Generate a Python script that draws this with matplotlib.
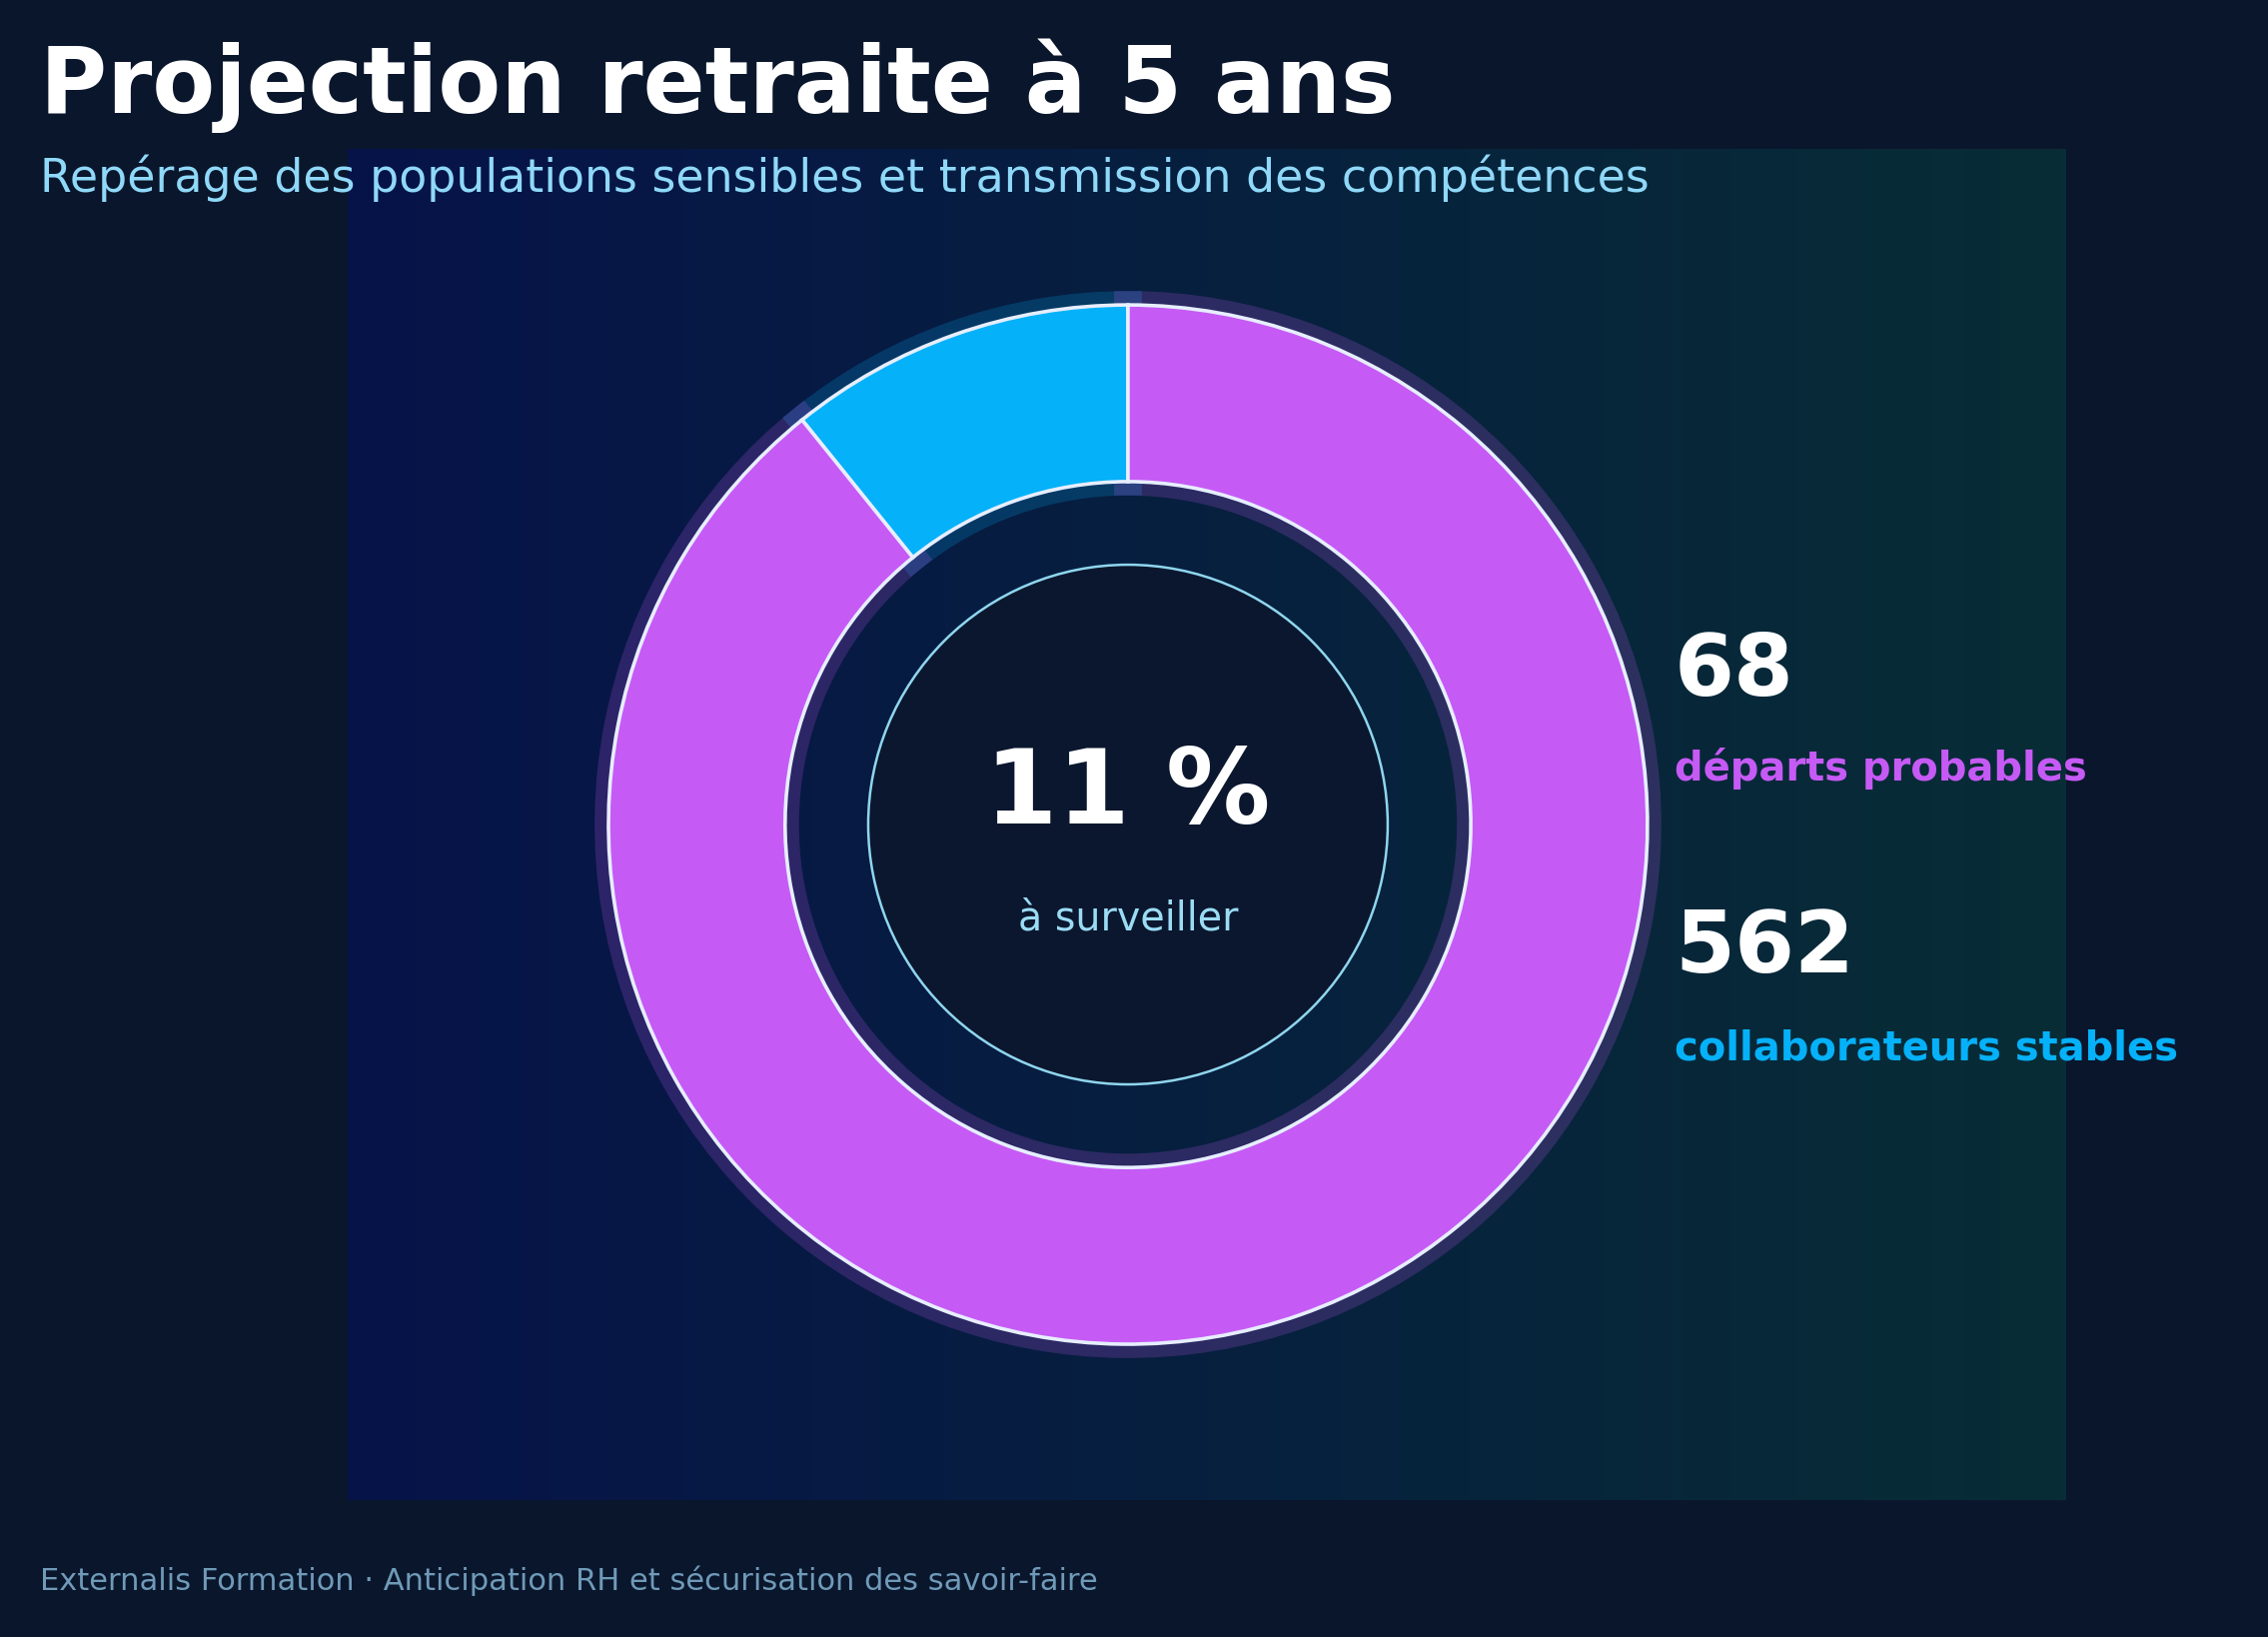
import numpy as np
import matplotlib
matplotlib.use("Agg")
import matplotlib.pyplot as plt
from matplotlib.patches import Circle
from matplotlib.colors import LinearSegmentedColormap

# data
values = [68, 562]
wedge_colors = ["#05b1f9", "#c65af5"]
counts = ["68", "562"]
count_labels = ["départs probables", "collaborateurs stables"]
label_colors = ["#c65af5", "#05b1f9"]
share_text = "11 %"
share_caption = "à surveiller"

title = "Projection retraite à 5 ans"
subtitle = "Repérage des populations sensibles et transmission des compétences"
footer = "Externalis Formation · Anticipation RH et sécurisation des savoir-faire"

BG = "#0a162c"

fig = plt.figure(figsize=(22.7, 16.38), dpi=100, facecolor=BG)
ax = fig.add_axes([0.1533, 0.0836, 0.7577, 0.8254])
ax.set_xlim(-1.502, 1.806)
ax.set_ylim(-1.3, 1.3)
ax.set_aspect("equal")
ax.axis("off")

# background gradient, dark blue -> dark teal
grad = LinearSegmentedColormap.from_list("bg", ["#061349", "#06203f", "#082d36"])
ax.imshow(np.linspace(0, 1, 256)[None, :], cmap=grad, aspect="auto",
          extent=(-1.502, 1.806, -1.3, 1.3), zorder=0)

# glow behind the ring
glow, _ = ax.pie(values, colors=wedge_colors, startangle=90, counterclock=True,
                 radius=1.0, wedgeprops=dict(width=0.34, linewidth=20, alpha=0.2))
for w, c in zip(glow, wedge_colors):
    w.set_edgecolor(c)
    w.set_zorder(1)

ring, _ = ax.pie(values, colors=wedge_colors, startangle=90, counterclock=True,
                 radius=1.0, wedgeprops=dict(width=0.34, linewidth=2.6,
                                             edgecolor="#e6eeff"))
for w in ring:
    w.set_zorder(2)
ax.set_xlim(-1.502, 1.806)
ax.set_ylim(-1.3, 1.3)

ax.add_patch(Circle((0, 0), 0.5, facecolor="#0b172e", edgecolor="#8fd6ee",
                    linewidth=1.8, zorder=3))

ax.text(0, 0.002, share_text, ha="center", va="baseline", fontsize=75,
        fontweight="bold", color="white", zorder=4)
ax.text(0, -0.202, share_caption, ha="center", va="baseline", fontsize=28.5,
        color="#9bdcf5", zorder=4)

ys = [(0.248, 0.085), (-0.285, -0.452)]
for (yn, yl), n, lab, c in zip(ys, counts, count_labels, label_colors):
    ax.text(1.052, yn, n, ha="left", va="baseline", fontsize=62,
            fontweight="bold", color="white")
    ax.text(1.052, yl, lab, ha="left", va="baseline", fontsize=28.8,
            fontweight="bold", color=c)

fig.text(0.0176, 0.931, title, ha="left", va="baseline", fontsize=66,
         fontweight="bold", color="white")
fig.text(0.0176, 0.8828, subtitle, ha="left", va="baseline", fontsize=33,
         color="#8fd8f8")
fig.text(0.0176, 0.0287, footer, ha="left", va="baseline", fontsize=22,
         color="#6f9ab8")

fig.savefig("out.png", dpi=100, facecolor=BG)
